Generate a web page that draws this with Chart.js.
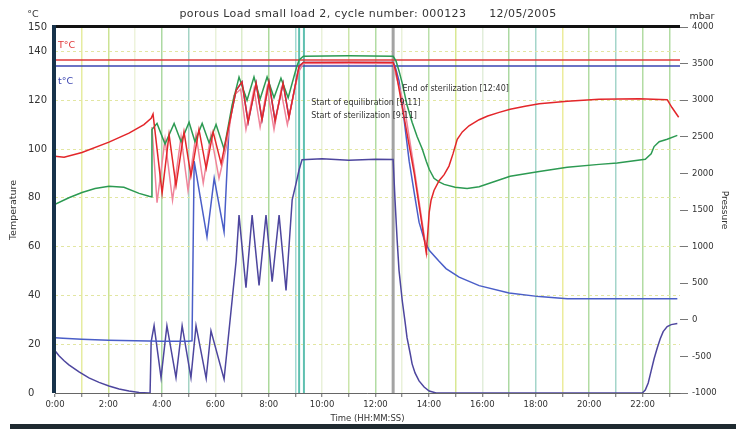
<!DOCTYPE html>
<html>
<head>
<meta charset="utf-8">
<script src="https://cdn.jsdelivr.net/npm/chart.js@4/dist/chart.umd.min.js"></script>
<style>
  html, body { margin: 0; padding: 0; background: #fff; }
  #wrap { position: relative; width: 736px; height: 429px; overflow: hidden; }
  #frame { position: absolute; left: 10px; right: 0; top: 424px; height: 5px; background: #1f2a30; }
</style>
</head>
<body>
<div id="wrap">
  <canvas id="chart" width="736" height="429"></canvas>
  <div id="frame"></div>
</div>
<script>
// chart data (time in minutes)
const titleText = 'porous Load small load 2, cycle number: 000123     12/05/2005';
const hourTicks = [0,1,2,3,4,5,6,7,8,9,10,11,12,13,14,15,16,17,18,19,20,21,22,23];
const tempTicks = [0, 20, 40, 60, 80, 100, 120, 140, 150];
const pressTicks = [-1000, -500, 0, 500, 1000, 1500, 2000, 2500, 3000, 3500, 4000];

const limitTemps = [136.5, 134];
const limitLabels = ['T°C', 't°C'];
const markerTimes = [9.14, 9.32, 12.66];
const eventLabels = ['Start of equilibration [9:11]', 'Start of sterilization [9:11]', 'End of sterilization [12:40]'];
const eventTimes = [9.18, 9.18, 12.67];
const eventTemps = [119, 113.7, 124.5];

const redSeries = [
  [0,97],[0.34,96.6],[1.01,98.6],[2.02,102.8],[2.77,106.5],[3.33,110],[3.6,112.6],[3.67,114.3],
  [4.01,82],[4.27,106],[4.53,85],[4.83,107],[5.09,89],[5.39,108],[5.66,92],[5.92,107],[6.22,94],
  [6.52,110],[6.78,124],[7.0,127.5],[7.23,111],[7.53,127],[7.75,112],[8.01,127.5],[8.24,111.5],[8.54,127],[8.76,113],
  [9.03,128],[9.14,134],[9.3,135.5],[11,135.6],[12.66,135.5],
  [12.77,131.5],[13.07,113],[13.45,90],[13.9,57.5],[13.96,66],[14.01,74],[14.08,79],[14.19,83],[14.38,87],
  [14.57,89.5],[14.75,93],[14.9,98],[15.06,104],[15.25,107],[15.5,109.5],[15.88,112],[16.2,113.5],[16.63,115],
  [17.04,116.3],[17.6,117.5],[18.13,118.5],[19.18,119.6],[20.37,120.4],[21.87,120.6],[22.92,120.2],[23.1,117],[23.35,113]
];
const pinkSeries = [
  [3.63,109],[3.82,78],[4.12,104],[4.4,79],[4.72,105],[4.98,83],[5.28,106],[5.55,86],[5.84,106],[6.14,88],
  [6.44,102],[6.7,122],[6.95,124.5],[7.15,108],[7.45,124.5],[7.68,109],[7.94,125],[8.2,108],[8.46,124],[8.7,110],
  [9.0,126],[9.14,132],[9.3,135],[12.66,135],
  [12.77,130],[13.07,118],[13.45,92],[13.93,56.5]
];
const greenSeries = [
  [0,77.3],[0.52,80],[1.01,82.2],[1.5,83.8],[2.02,84.7],[2.58,84.3],[3.15,81.8],[3.52,80.6],[3.6,80.4],
  [3.63,108],[3.82,110.5],[4.12,102],[4.46,110.5],[4.72,103],[5.02,111],[5.24,103],[5.51,110.5],[5.77,102.5],[6.03,110],[6.33,100],
  [6.63,118],[6.89,129.5],[7.19,120],[7.45,129.5],[7.68,120.5],[7.94,129.5],[8.2,121],[8.46,129],[8.73,121],
  [9.03,133],[9.14,136.5],[9.3,138],[11,138.2],[12.66,138],
  [12.77,136],[12.88,132],[13.0,127],[13.18,118],[13.37,111],[13.56,105],[13.75,100],[13.9,95],[14.01,91.7],
  [14.19,88],[14.38,86.5],[14.57,85.5],[14.98,84.3],[15.43,83.8],[15.88,84.5],[17.04,88.8],[18.13,90.8],
  [19.18,92.5],[20.37,93.7],[21.05,94.3],[22.1,95.8],[22.32,98],[22.43,101],[22.62,103],[22.92,104],[23.3,105.6]
];
const blueSeries = [
  [0,22.6],[0.3,22.4],[1.0,22],[2.0,21.6],[3.0,21.4],[4.0,21.2],[5.0,21.2],[5.13,21.4],
  [5.21,95],[5.69,64],[5.96,88],[6.33,66],[6.52,110],[6.78,124],
  [7.0,127.5],[7.23,111],[7.53,127],[7.75,112],[8.01,127.5],[8.24,111.5],[8.54,127],[8.76,113],
  [9.03,128],[9.14,134],[9.3,135.5],[12.66,135.5],
  [12.73,134],[12.88,128],[13.07,112],[13.26,95],[13.45,82],[13.63,70],[13.82,63],[14.01,58.5],[14.38,54],
  [14.64,51],[15.13,47.5],[15.88,44],[17.0,41],[18.13,39.5],[19.18,38.6],[23.3,38.6]
];
const pressureSeries = [
  [0,-423],[0.15,-491],[0.34,-560],[0.52,-615],[0.9,-712],[1.27,-794],[1.65,-855],[2.02,-904],[2.4,-945],
  [2.77,-973],[3.15,-993],[3.52,-1000],[3.56,-1000],
  [3.6,-300],[3.71,-80],[3.97,-790],[4.19,-80],[4.53,-790],[4.76,-80],[5.09,-790],[5.28,-80],[5.66,-800],[5.84,-150],[6.33,-810],
  [6.78,800],[6.89,1430],[7.15,440],[7.38,1430],[7.64,470],[7.9,1430],[8.13,520],[8.39,1430],[8.65,400],
  [8.88,1640],[9.03,1870],[9.14,2050],[9.25,2188],[10,2200],[11,2180],[12,2195],[12.66,2190],
  [12.73,1638],[12.81,1088],[12.88,676],[13.0,264],[13.11,-38],[13.18,-244],[13.3,-464],[13.37,-602],
  [13.48,-725],[13.63,-835],[13.82,-918],[14.01,-973],[14.27,-1000],
  [21.99,-1000],[22.1,-959],[22.21,-863],[22.32,-698],[22.43,-533],[22.55,-382],[22.66,-258],[22.77,-162],
  [22.92,-93],[23.07,-66],[23.3,-52]
];

// styling
const hourGridColors = [
  'transparent','#e6eca0','#cce394','#eef3dc','#acd9a2','#a4d3c4','#e9f1da','#dbeccb','#acd99c','#a4d9d2',
  '#e9f1da','#cbe5ab','#b2dca3','#e9f1da','#badfaa','#d9e893','#e2eedb','#acd9a2','#a4d5ca','#ecec9c',
  '#b2dca3','#a4d5ca','#b2dca3','#b2dca3'
];
const markerColors = ['#5fc0b0', '#5fc0b0', '#a3a3a3'];
const markerWidths = [2, 2, 3];
const limitColors = ['#e0383a', '#3a44b0'];
const FONT = '"DejaVu Sans", "Liberation Sans", Arial, sans-serif';

Chart.defaults.font.family = FONT;
Chart.defaults.font.size = 8.5;
Chart.defaults.color = '#333';

const toPoints = s => s.map(([x, y]) => ({ x, y }));
const line = (label, data, color, axis) => ({
  label, data: toPoints(data), borderColor: color, borderWidth: 1.5,
  pointRadius: 0, tension: 0, fill: false, yAxisID: axis
});

const decorations = {
  id: 'decorations',
  beforeDatasetsDraw(chart) {
    const { ctx, chartArea: a, scales: { x, y } } = chart;
    ctx.save();
    markerTimes.forEach((t, i) => {
      const px = x.getPixelForValue(t);
      ctx.strokeStyle = markerColors[i];
      ctx.lineWidth = markerWidths[i];
      ctx.beginPath(); ctx.moveTo(px, a.top); ctx.lineTo(px, a.bottom); ctx.stroke();
    });
    limitTemps.forEach((v, i) => {
      const py = y.getPixelForValue(v);
      ctx.strokeStyle = limitColors[i];
      ctx.lineWidth = 1.6;
      ctx.beginPath(); ctx.moveTo(a.left, py); ctx.lineTo(a.right, py); ctx.stroke();
    });
    ctx.restore();
  },
  afterDraw(chart) {
    const { ctx, chartArea: a, scales: { x, y } } = chart;
    ctx.save();
    // frame
    ctx.fillStyle = '#111';
    ctx.fillRect(a.left, a.top - 2, a.right - a.left, 3);
    ctx.fillStyle = '#17324a';
    ctx.fillRect(a.left - 3, a.top - 2, 4, a.bottom - a.top + 2);

    ctx.textBaseline = 'middle';
    ctx.textAlign = 'center';
    ctx.fillStyle = '#333';
    ctx.font = '11px ' + FONT;
    ctx.letterSpacing = '0.4px';
    ctx.fillText(titleText.replace(/ {5}/, '\u2003\u2003'), 368, 14);
    ctx.letterSpacing = '0px';
    ctx.font = '9.5px ' + FONT;
    ctx.fillText('°C', 33, 15);
    ctx.fillText('mbar', 702, 17);

    // left axis title
    ctx.save();
    ctx.translate(14, (a.top + a.bottom) / 2);
    ctx.rotate(-Math.PI / 2);
    ctx.font = '9.5px ' + FONT;
    ctx.fillText('Temperature', 0, 0);
    ctx.restore();

    ctx.textAlign = 'left';
    ctx.font = '9.5px ' + FONT;
    ctx.fillStyle = limitColors[0];
    ctx.fillText(limitLabels[0], a.left + 3, y.getPixelForValue(limitTemps[0]) - 14);
    ctx.fillStyle = limitColors[1];
    ctx.fillText(limitLabels[1], a.left + 3, y.getPixelForValue(limitTemps[1]) + 15);

    ctx.font = '8px ' + FONT;
    ctx.fillStyle = '#333';
    eventLabels.forEach((txt, i) => {
      const px = x.getPixelForValue(eventTimes[i]) + (i === 2 ? 9 : 11);
      ctx.fillText(txt, px, y.getPixelForValue(eventTemps[i]));
    });
    ctx.restore();
  }
};

new Chart(document.getElementById('chart'), {
  type: 'line',
  data: {
    datasets: [
      line('T', redSeries, '#e3262a', 'y'),
      line('G', greenSeries, '#2c9a52', 'y'),
      line('P', pinkSeries, '#f0849a', 'y'),
      line('B', blueSeries, '#4a5ec8', 'y'),
      line('Pressure', pressureSeries, '#4d469e', 'y2')
    ]
  },
  options: {
    responsive: false,
    animation: false,
    events: [],
    layout: { padding: { top: 27, left: 28, right: 0, bottom: 0 } },
    plugins: { legend: { display: false }, tooltip: { enabled: false } },
    scales: {
      x: {
        type: 'linear', min: 0, max: 23.4,
        afterBuildTicks: s => { s.ticks = hourTicks.map(v => ({ value: v })); },
        afterFit: s => { s.height = 36; },
        ticks: {
          autoSkip: false, maxRotation: 0, padding: 3,
          callback: v => (v % 2 === 0 ? v + ':00' : '')
        },
        grid: {
          color: c => (c.tick ? hourGridColors[c.tick.value] : 'transparent'),
          lineWidth: 1.5, tickLength: 4, tickColor: '#666', tickWidth: 1
        },
        border: { color: '#666', width: 1 },
        title: { display: true, text: 'Time (HH:MM:SS)', padding: { top: 0, bottom: 5 }, font: { size: 8.5 } }
      },
      y: {
        position: 'left', min: 0, max: 150,
        afterBuildTicks: s => { s.ticks = tempTicks.map(v => ({ value: v })); },
        afterFit: s => { s.width = 27; },
        ticks: { crossAlign: 'far', font: { size: 10 } },
        grid: {
          color: c => (c.tick && c.tick.value > 0 && c.tick.value < 150 ? '#e2e6a2' : 'transparent'),
          lineWidth: 1, tickLength: 0, drawTicks: false
        },
        border: { display: false, dash: [3, 3] }
      },
      y2: {
        position: 'right', min: -1000, max: 4000,
        afterBuildTicks: s => { s.ticks = pressTicks.map(v => ({ value: v })); },
        afterFit: s => { s.width = 56; },
        ticks: { padding: 4, callback: v => String(v) },
        grid: { drawOnChartArea: false, tickLength: 8, tickColor: '#777' },
        border: { display: false },
        title: { display: true, text: 'Pressure', padding: { top: 6, bottom: 0 }, font: { size: 9 } }
      }
    }
  },
  plugins: [decorations]
});
</script>
</body>
</html>
